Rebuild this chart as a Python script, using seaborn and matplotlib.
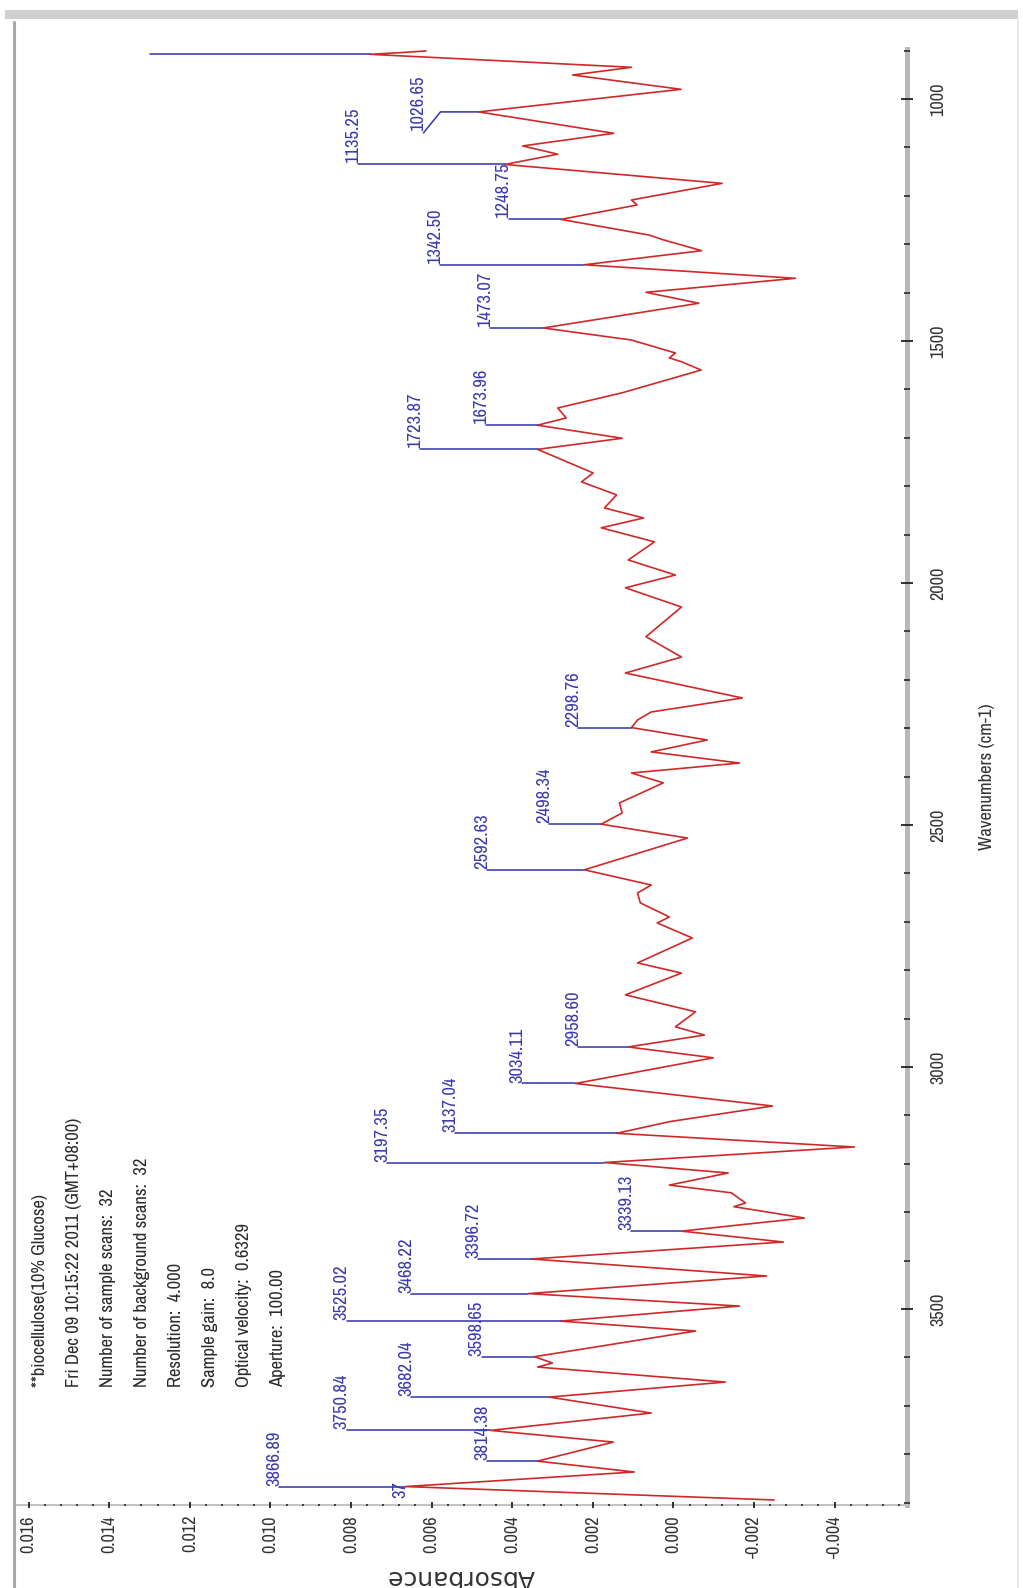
import numpy as np
import pandas as pd
import matplotlib
matplotlib.use("Agg")
import matplotlib.pyplot as plt
import seaborn as sns
from matplotlib import font_manager as fm
from matplotlib.font_manager import FontProperties
from matplotlib.lines import Line2D
from matplotlib.patches import Rectangle
from matplotlib.ticker import MultipleLocator, FormatStrFormatter

# ---------------- data ----------------
wavenumber = [900.8, 904.3, 907.7, 934.5, 950.4, 980.0, 1026.65, 1070.9, 1097.0, 1114.0,
              1135.25, 1174.3, 1208.7, 1219.0, 1248.75, 1281.0, 1291.0, 1313.4, 1342.50, 1370.5,
              1399.4, 1422.0, 1473.07, 1498.0, 1524.8, 1535.0, 1542.8, 1560.0, 1607.0, 1638.4,
              1659.0, 1673.96, 1701.0, 1723.87, 1772.7, 1791.0, 1818.0, 1845.0, 1865.7, 1886.0,
              1915.0, 1952.5, 1983.5, 2010.0, 2049.6, 2111.0, 2153.0, 2186.0, 2237.6, 2266.5,
              2283.0, 2298.76, 2324.4, 2349.0, 2372.0, 2392.6, 2413.0, 2454.5, 2475.0, 2498.34,
              2527.0, 2592.63, 2624.0, 2640.5, 2661.0, 2690.0, 2702.5, 2733.5, 2785.0, 2806.0,
              2851.0, 2886.0, 2917.0, 2934.0, 2958.60, 2981.0, 3034.11, 3080.6, 3113.0, 3137.04,
              3165.3, 3197.35, 3219.0, 3244.0, 3260.0, 3281.0, 3288.6, 3312.0, 3339.13, 3361.6,
              3396.72, 3431.8, 3468.22, 3494.0, 3525.02, 3545.5, 3598.65, 3611.6, 3620.0, 3651.0,
              3682.04, 3715.0, 3750.84, 3775.0, 3814.38, 3836.8, 3866.89, 3894.6]
absorbance = [0.00614, 0.00680, 0.00753, 0.00104, 0.00250, -0.00019, 0.00483, 0.00148, 0.00374, 0.00287,
              0.00418, -0.00121, 0.00104, 0.00090, 0.00279, 0.00061, 0.00025, -0.00070, 0.00221, -0.00303,
              0.00068, -0.00063, 0.00323, 0.00104, -0.00005, 0.00010, -0.00020, -0.00069, 0.00127, 0.00287,
              0.00266, 0.00337, 0.00127, 0.00337, 0.00199, 0.00228, 0.00141, 0.00171, 0.00074, 0.00179,
              0.00047, 0.00112, -0.00005, 0.00119, -0.00020, 0.00068, -0.00020, 0.00119, -0.00171, 0.00055,
              0.00089, 0.00104, -0.00084, 0.00055, -0.00164, 0.00104, 0.00025, 0.00134, 0.00127, 0.00179,
              -0.00035, 0.00221, 0.00055, 0.00089, 0.00082, 0.00010, 0.00040, -0.00047, 0.00089, -0.00020,
              0.00119, -0.00055, -0.00005, -0.00077, 0.00112, -0.00099, 0.00243, -0.00246, 0.00010, 0.00141,
              -0.00449, 0.00171, -0.00136, 0.00010, -0.00144, -0.00179, -0.00150, -0.00325, -0.00020, -0.00273,
              0.00352, -0.00231, 0.00360, -0.00164, 0.00280, -0.00055, 0.00345, 0.00300, 0.00337, -0.00129,
              0.00308, 0.00055, 0.00454, 0.00149, 0.00337, 0.00097, 0.00665, -0.00250]

peak_labels = ["1026.65", "1135.25", "1248.75", "1342.50", "1473.07", "1673.96", "1723.87",
               "2298.76", "2498.34", "2592.63", "2958.60", "3034.11", "3137.04", "3197.35",
               "3339.13", "3396.72", "3468.22", "3525.02", "3598.65", "3682.04", "3750.84",
               "3814.38", "3866.89"]
peak_wn = [float(s) for s in peak_labels]

# label layout (leader end / text anchor, in data units)
leader_end_abs = [0.00578, 0.00782, 0.00409, 0.00578, 0.00454, 0.00464, 0.00628,
                  0.00236, 0.00308, 0.00462, 0.00236, 0.00375, 0.00541, 0.00710,
                  0.00104, 0.00484, 0.00650, 0.00811, 0.00476, 0.00650, 0.00811,
                  0.00462, 0.00978]
text_abs = list(leader_end_abs)
text_abs[0] = 0.00620
text_wn = [w - 2 for w in peak_wn]
text_wn[0] = 1066.0

info_lines = ["**biocellulose(10% Glucose)",
              "Fri Dec 09 10:15:22 2011 (GMT+08:00)",
              "Number of sample scans:  32",
              "Number of background scans:  32",
              "Resolution:  4.000",
              "Sample gain:  8.0",
              "Optical velocity:  0.6329",
              "Aperture:  100.00"]

# ---------------- style ----------------
sns.set_theme(style="white")
plt.rcParams["font.family"] = ["Liberation Sans", "DejaVu Sans"]
plt.rcParams["axes.unicode_minus"] = False

RED = "#cf2828"
BLUE = "#3a3aae"
TXT = "#2b2b2b"

W, H = 1023, 1588
fig = plt.figure(figsize=(W / 100, H / 100), dpi=100)
fig.patch.set_facecolor("white")
renderer = fig.canvas.get_renderer()


def text_width(fp, s, size):
    p = fp.copy()
    p.set_size(size)
    w, h, d = renderer.get_text_width_height_descent(s, p, ismath=False)
    return w


# choose a narrow sans font (closest to an Arial-Narrow look), fall back to Liberation Sans
base_fp = FontProperties(family="Liberation Sans")
base_ratio = text_width(base_fp, "1135.25 Number", 20)
best_fp, best_score = base_fp, abs(1.0 - 0.82)
seen = set()
for f in fm.fontManager.ttflist:
    name = f.name
    narrowish = ("Narrow" in name or "Condensed" in name or
                 str(f.stretch) in ("condensed", "semi-condensed"))
    if not narrowish or f.style != "normal" or str(f.weight) not in ("400", "normal", "regular", "book"):
        continue
    if "Mono" in name or "Serif" in name or f.fname in seen:
        continue
    seen.add(f.fname)
    try:
        fp = FontProperties(fname=f.fname)
        r = text_width(fp, "1135.25 Number", 20) / base_ratio
    except Exception:
        continue
    score = abs(r - 0.82)
    if r < 0.97 and score < best_score:
        best_fp, best_score = fp, score
NFP = best_fp


def sized(s, target_px, fp=NFP):
    w = text_width(fp, s, 10)
    return 10 * target_px / w


LABEL_SIZE = sized("1135.25", 55)
XTICK_SIZE = sized("0.016", 37)
YTICK_SIZE = sized("1000", 33)
INFO_SIZE = sized("Fri Dec 09 10:15:22 2011 (GMT+08:00)", 267)
YLAB_SIZE = sized("Wavenumbers (cm-1)", 147)


def fpz(size):
    p = NFP.copy()
    p.set_size(size)
    return p


# window frame decorations
fig.patches.append(Rectangle((5 / W, 1 - 19 / H), 1013 / W, 9 / H, transform=fig.transFigure,
                             facecolor="#cfcfcf", edgecolor="none", zorder=0))
fig.add_artist(Line2D([14 / W, 14 / W], [0, 1 - 22 / H], transform=fig.transFigure,
                      color="#a8a8a8", lw=2.2))
fig.add_artist(Line2D([1018 / W, 1018 / W], [0, 1 - 19 / H], transform=fig.transFigure,
                      color="#e4e4e4", lw=1.2))

ax = fig.add_axes([15 / W, 83 / H, 892 / W, 1456 / H])
ax.set_facecolor("white")

df = pd.DataFrame({"wn": wavenumber, "ab": absorbance})
sns.lineplot(data=df, x="ab", y="wn", sort=False, estimator=None, color=RED, lw=1.2, ax=ax)

ax.set_xlim(0.016337, -0.005797)
ax.set_ylim(3905, 896.7)

# spines
for s in ("left", "top"):
    ax.spines[s].set_visible(False)
ax.spines["right"].set_color("#b8b8b8")
ax.spines["right"].set_linewidth(3.6)
ax.spines["bottom"].set_color("#c2c2c2")
ax.spines["bottom"].set_linewidth(1.5)

ax.yaxis.tick_right()
ax.xaxis.set_major_locator(MultipleLocator(0.002))
ax.xaxis.set_minor_locator(MultipleLocator(0.0004))
ax.xaxis.set_major_formatter(FormatStrFormatter("%.3f"))
ax.yaxis.set_major_locator(MultipleLocator(500))
ax.yaxis.set_minor_locator(MultipleLocator(100))
ax.yaxis.set_major_formatter(FormatStrFormatter("%d"))

ax.tick_params(axis="x", which="major", direction="inout", length=4.5, width=1.3, color="#222222",
               pad=5, labelrotation=90, labelcolor="#333333", bottom=True)
ax.tick_params(axis="x", which="minor", direction="inout", length=2.0, width=1.3, color="#333333", bottom=True)
ax.tick_params(axis="y", which="major", direction="inout", length=9, width=1.3, color="#222222",
               pad=12, labelrotation=90, labelcolor="#333333", right=True, left=False)
ax.tick_params(axis="y", which="minor", direction="inout", length=4, width=1.3, color="#333333",
               right=True, left=False)
ax.xaxis.set_zorder(3)
ax.yaxis.set_zorder(3)
ax.grid(False)

# axis labels
ax.set_xlabel("Absorbance", rotation=180, fontfamily="DejaVu Sans", fontsize=18, color="#333333")
ax.xaxis.set_label_coords(0.5, (1505 - 1577) / 1456)
ax.xaxis.label.set_va("center")
ax.set_ylabel("Wavenumbers (cm-1)", color="#333333")
ax.yaxis.label.set_fontproperties(fpz(YLAB_SIZE))
ax.yaxis.set_label_position("right")
ax.yaxis.label.set_rotation(90)
ax.yaxis.set_label_coords((987 - 15) / 892, 0.5)
ax.yaxis.label.set_va("center")
ax.yaxis.label.set_ha("center")

# peak markers
wn_arr = np.array(wavenumber)
ab_arr = np.array(absorbance)
for lab, w, ae, ta, tw in zip(peak_labels, peak_wn, leader_end_abs, text_abs, text_wn):
    a_curve = float(np.interp(w, wn_arr, ab_arr))
    xs = [a_curve, ae]
    ys = [w, w]
    if abs(ta - ae) > 1e-6:
        xs.append(ta)
        ys.append(tw + 4)
    ax.plot(xs, ys, color=BLUE, lw=1.15, zorder=2)
    ax.text(ta, tw, lab, rotation=90, rotation_mode="anchor", ha="left", va="baseline",
            fontproperties=fpz(LABEL_SIZE), color=BLUE, zorder=4)

# clipped marker at the very top of the spectrum
ax.plot([absorbance[2], 0.01298], [wavenumber[2], wavenumber[2]], color=BLUE, lw=1.15, zorder=2)
# partially hidden label at the bottom
ax.text(0.00666, 3890.5, "37", rotation=90, rotation_mode="anchor", ha="left", va="baseline",
        fontproperties=fpz(LABEL_SIZE), color=BLUE, zorder=4)

# acquisition info block
for i, line in enumerate(info_lines):
    xc = 40 + i * 34.0
    ax.text((xc - 15) / 892, (1505 - 1387) / 1456, line, transform=ax.transAxes, rotation=90,
            rotation_mode="anchor", ha="left", va="center", fontproperties=fpz(INFO_SIZE), color=TXT)

fig.canvas.draw()
for lbl in ax.get_xticklabels():
    lbl.set_fontproperties(fpz(XTICK_SIZE))
for lbl in ax.get_yticklabels():
    lbl.set_fontproperties(fpz(YTICK_SIZE))
    lbl.set_va("center")

fig.savefig("out.png", dpi=100)
